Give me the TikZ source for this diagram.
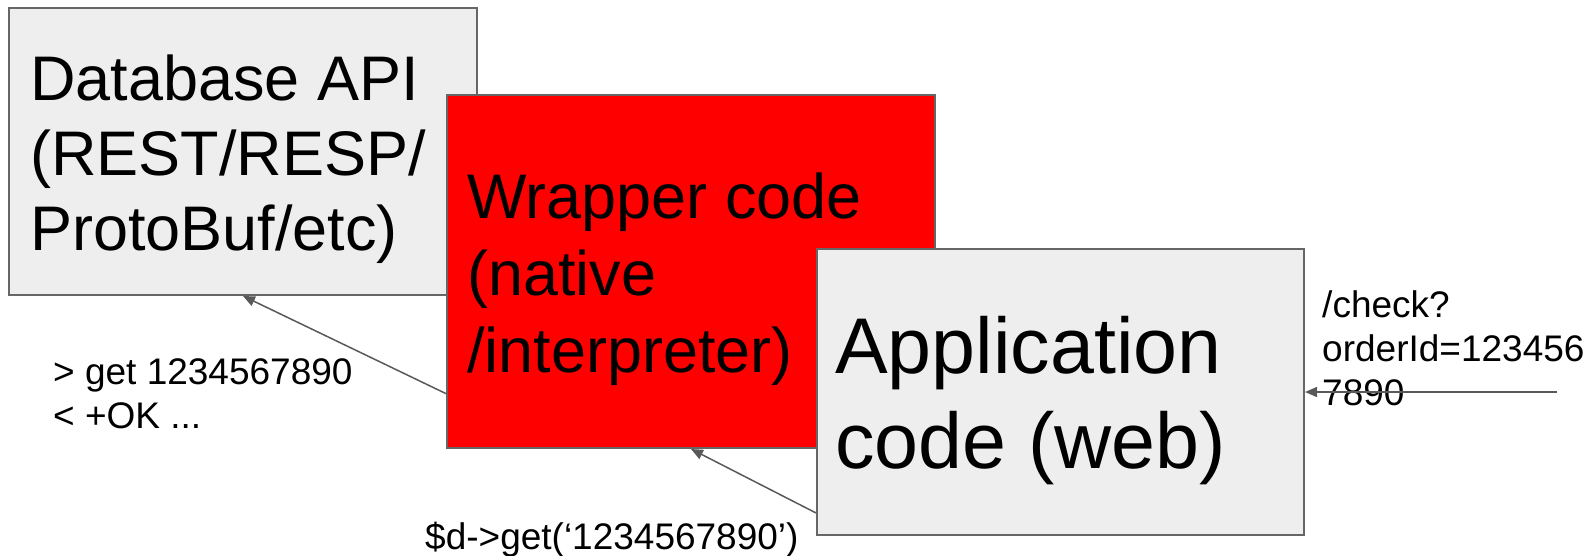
\documentclass[tikz,border=0pt]{standalone}
\usepackage{fontspec}
\setmainfont{Liberation Sans}
\usetikzlibrary{arrows.meta,calc}
\definecolor{boxgray}{HTML}{EEEEEE}
\definecolor{edgegray}{HTML}{666666}
\definecolor{arrowgray}{HTML}{595959}
\definecolor{wrapred}{HTML}{FF0000}
\tikzset{
  box/.style={draw=edgegray, line width=2pt, rectangle, inner sep=0pt},
  graybox/.style={box, fill=boxgray},
  redbox/.style={box, fill=wrapred},
  bigtext/.style={anchor=base west, align=left, inner sep=0pt, font=\fontsize{63}{75}\selectfont},
  wraptext/.style={anchor=base west, align=left, inner sep=0pt, font=\fontsize{63}{77}\selectfont},
  apptext/.style={anchor=base west, align=left, inner sep=0pt, font=\fontsize{79}{95}\selectfont},
  smalltext/.style={anchor=base west, align=left, inner sep=0pt, font=\fontsize{37}{44}\selectfont},
  conn/.style={draw=arrowgray, line width=1.5pt, -{Triangle[length=12pt,width=10pt]}}
}
\begin{document}
\begin{tikzpicture}[x=1pt,y=-1pt]
\useasboundingbox (0,0) rectangle (1592,555);
\node[graybox, minimum width=468pt, minimum height=287pt] (db) at (243,151.5) {};
\node[bigtext] (dbtext) at (30,250) {Database API\\(REST/RESP/\\ProtoBuf/etc)};
\node[redbox, minimum width=488pt, minimum height=353pt] (wrap) at (691,271.5) {};
\node[wraptext] (wraptxt) at (467,372) {Wrapper code\\(native\\/interpreter)};
\node[graybox, minimum width=487pt, minimum height=286pt] (app) at (1060.5,392) {};
\node[apptext] (apptxt) at (835,468) {Application\\code (web)};
\node[smalltext] (redis) at (53,428) {> get 1234567890\\< +OK ...};
\node[smalltext] (phpcall) at (425,549) {\$d->get(‘1234567890’)};
\node[smalltext] (req) at (1322,405) {/check?\\orderId=123456\\7890};
\coordinate (reqsrc) at (1557,392);
\draw[conn] ($(wrap.south west)!0.156!(wrap.north west)$) -- (db.south);
\draw[conn] ($(app.south west)!0.08!(app.north west)$) -- (wrap.south);
\draw[conn] (reqsrc) -- (app.east);
\end{tikzpicture}
\end{document}
